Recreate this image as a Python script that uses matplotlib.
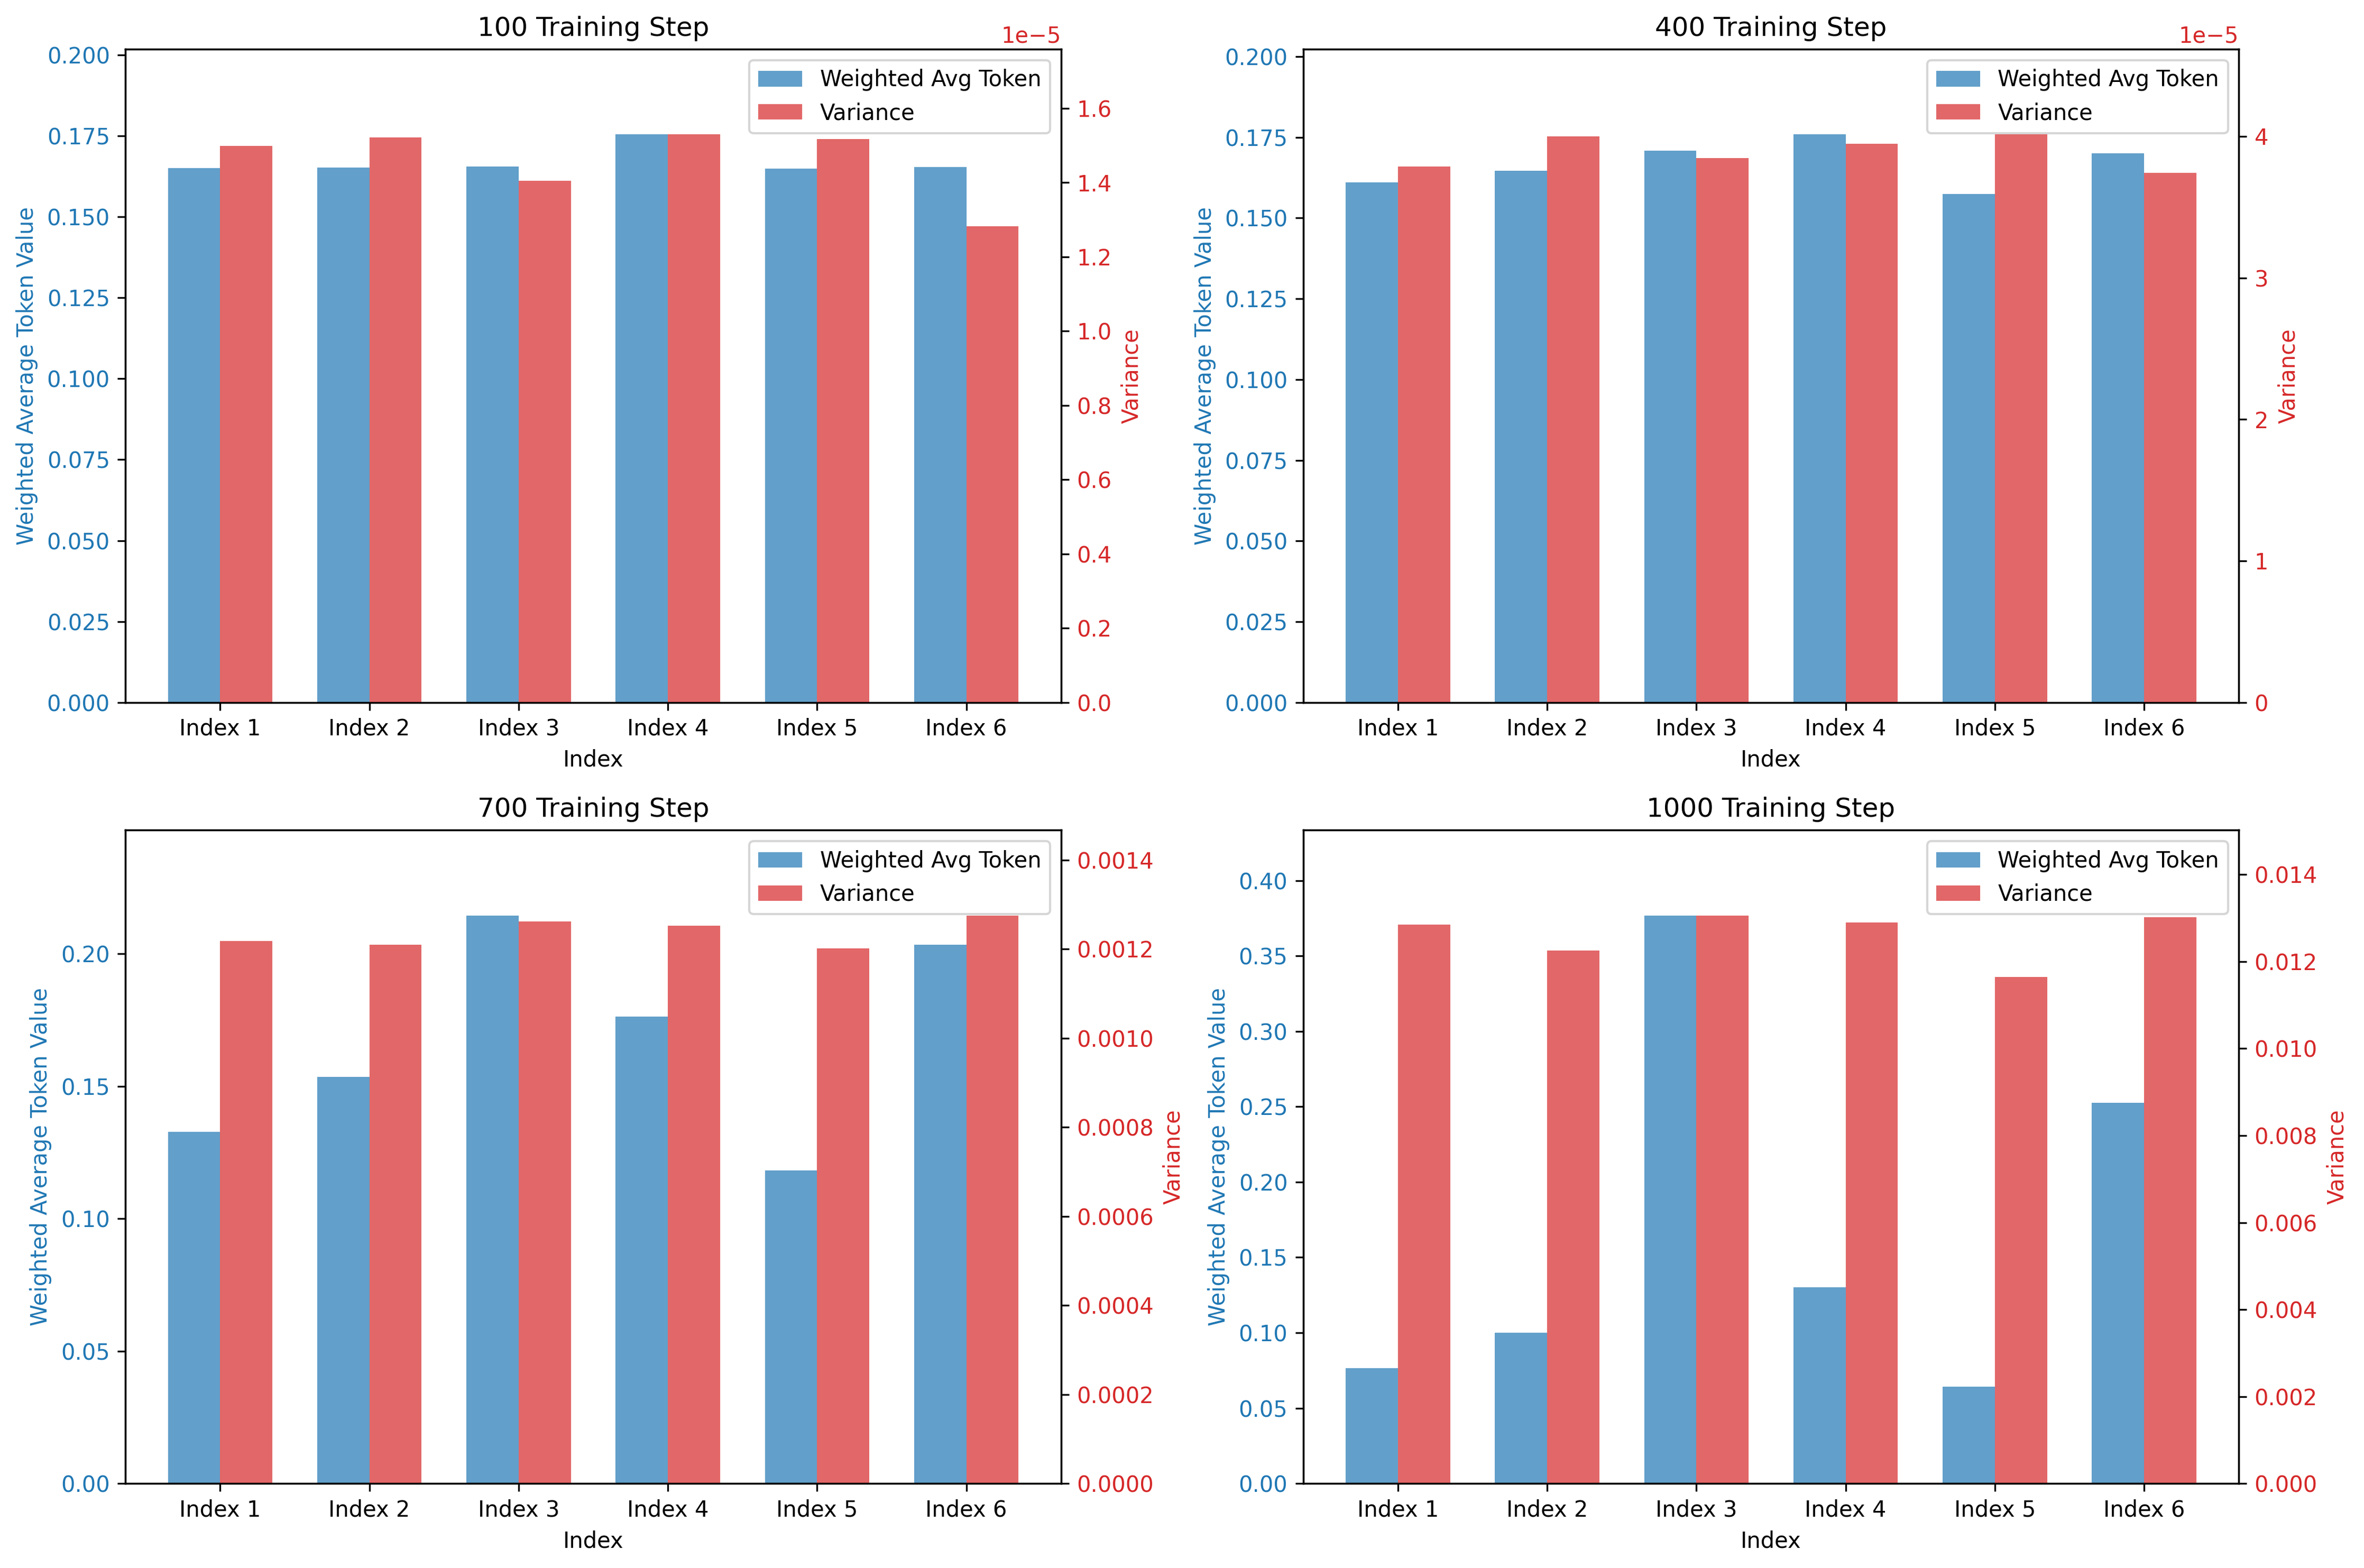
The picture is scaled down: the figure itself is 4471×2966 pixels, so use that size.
import numpy as np
import matplotlib.pyplot as plt

labels = ['Index 1', 'Index 2', 'Index 3', 'Index 4', 'Index 5', 'Index 6']
steps = [100, 400, 700, 1000]

# weighted average token value per step
avg_100 = [0.1651, 0.1652, 0.1655, 0.1755, 0.1649, 0.1654]
avg_400 = [0.1610, 0.1647, 0.1709, 0.1759, 0.1574, 0.1701]
avg_700 = [0.1327, 0.1536, 0.2145, 0.1763, 0.1182, 0.2034]
avg_1000 = [0.0766, 0.1001, 0.3768, 0.1301, 0.0641, 0.2526]

# variance per step
var_100 = [1.4995e-5, 1.522e-5, 1.4056e-5, 1.530e-5, 1.517e-5, 1.282e-5]
var_400 = [3.785e-5, 4.000e-5, 3.845e-5, 3.947e-5, 4.014e-5, 3.743e-5]
var_700 = [0.0012188, 0.0012099, 0.0012624, 0.0012523, 0.0012020, 0.0012757]
var_1000 = [0.012855, 0.012249, 0.013061, 0.012901, 0.011653, 0.013015]

avgs = [avg_100, avg_400, avg_700, avg_1000]
variances = [var_100, var_400, var_700, var_1000]

fig, axes = plt.subplots(2, 2, figsize=(15, 10))
x = np.arange(len(labels))
width = 0.35

for ax1, step, avg, var in zip(axes.flat, steps, avgs, variances):
    b1 = ax1.bar(x - width / 2, avg, width, color='tab:blue', alpha=0.7, label='Weighted Avg Token')
    ax1.set_xlabel('Index')
    ax1.set_ylabel('Weighted Average Token Value', color='tab:blue')
    ax1.tick_params(axis='y', labelcolor='tab:blue')
    ax1.set_ylim(0, max(avg) * 1.15)
    ax1.set_xticks(x)
    ax1.set_xticklabels(labels)

    ax2 = ax1.twinx()
    b2 = ax2.bar(x + width / 2, var, width, color='tab:red', alpha=0.7, label='Variance')
    ax2.set_ylabel('Variance', color='tab:red')
    ax2.tick_params(axis='y', labelcolor='tab:red')
    ax2.set_ylim(0, max(var) * 1.15)
    ax2.yaxis.get_offset_text().set_color('tab:red')

    ax2.legend([b1, b2], ['Weighted Avg Token', 'Variance'], loc='upper right')
    ax1.set_title(f'{step} Training Step')

plt.tight_layout()
plt.savefig('out.png', dpi=300, bbox_inches='tight')
